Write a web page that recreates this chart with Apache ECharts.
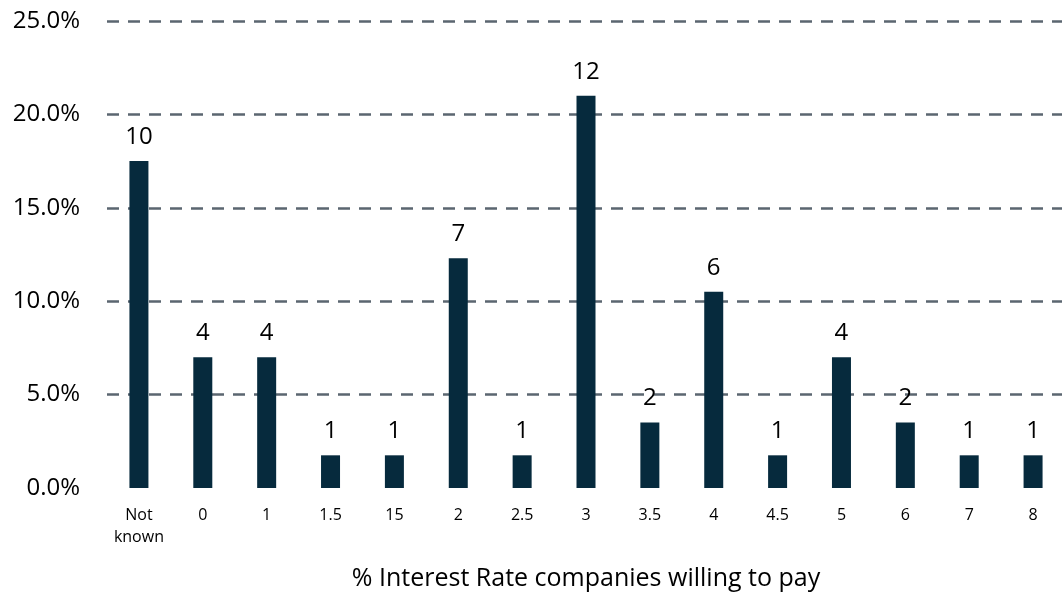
<!DOCTYPE html>
<html>
<head>
<meta charset="utf-8">
<script src="https://cdn.jsdelivr.net/npm/echarts@6/dist/echarts.min.js"></script>
<style>html,body{margin:0;padding:0;background:#fff;}#c{width:1062px;height:592px;}</style>
</head>
<body>
<div id="c"></div>
<script>
const categories = ['Not\nknown','0','1','1.5','15','2','2.5','3','3.5','4','4.5','5','6','7','8'];
const percents = [17.5, 7.0, 7.0, 1.75, 1.75, 12.3, 1.75, 21.0, 3.5, 10.5, 1.75, 7.0, 3.5, 1.75, 1.75];
const counts = [10, 4, 4, 1, 1, 7, 1, 12, 2, 6, 1, 4, 2, 1, 1];
const yTicks = [0, 5, 10, 15, 20, 25];
const xTitle = '% Interest Rate companies willing to pay';

const font = 'Open Sans, Lato, sans-serif';
const chart = echarts.init(document.getElementById('c'));
chart.setOption({
  animation: false,
  grid: { left: 107, width: 958, top: 21, height: 467, containLabel: false, outerBoundsMode: 'none' },
  xAxis: {
    type: 'category',
    data: categories,
    name: xTitle,
    nameLocation: 'middle',
    nameGap: 78,
    nameTextStyle: { fontSize: 25, color: '#000', fontFamily: font },
    axisLine: { show: false },
    axisTick: { show: false },
    axisLabel: { fontSize: 16, color: '#000', fontFamily: font, margin: 16, lineHeight: 22, interval: 0 }
  },
  yAxis: {
    type: 'value',
    min: yTicks[0],
    max: yTicks[yTicks.length - 1],
    interval: 5,
    axisLine: { show: false },
    axisTick: { show: false },
    axisLabel: { fontSize: 24, color: '#000', fontFamily: font, margin: 27, formatter: v => v.toFixed(1) + '%' },
    splitLine: { show: true, showMinLine: false, lineStyle: { type: [12, 9], color: '#5b6670', width: 2.5 } }
  },
  series: [{
    type: 'bar',
    data: percents,
    barWidth: 19,
    itemStyle: { color: '#062a3d' },
    label: {
      show: true,
      position: 'top',
      distance: 12,
      fontSize: 24,
      color: '#000',
      fontFamily: font,
      formatter: p => String(counts[p.dataIndex])
    }
  }]
});
</script>
</body>
</html>
